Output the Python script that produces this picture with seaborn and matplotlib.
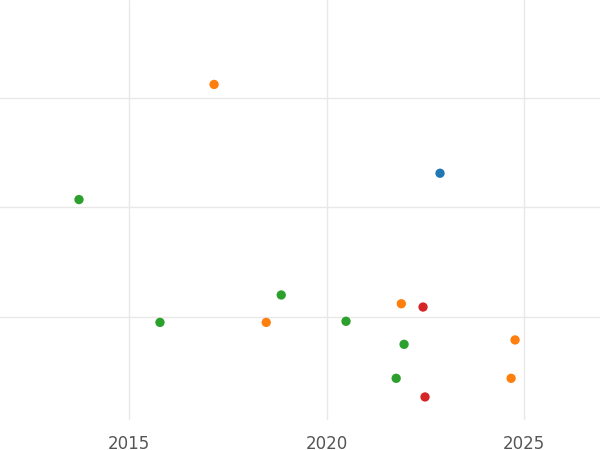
import pandas as pd
import matplotlib.pyplot as plt
import seaborn as sns

years = [2017.15, 2021.89, 2018.47, 2024.77, 2024.67,
         2022.87,
         2013.73, 2018.85, 2015.78, 2020.49, 2021.96, 2021.76,
         2022.44, 2022.49]
values = [3.12, 1.12, 0.95, 0.79, 0.44,
          2.31,
          2.07, 1.20, 0.95, 0.96, 0.75, 0.44,
          1.09, 0.27]
groups = ["B"] * 5 + ["A"] + ["C"] * 6 + ["D"] * 2

data = pd.DataFrame({"year": years, "value": values, "group": groups})

sns.set_style("white")
fig = plt.figure(figsize=(6, 4.5), dpi=100)
ax = fig.add_axes([0, 0.0667, 1, 0.9333])
sns.scatterplot(x="year", y="value", hue="group", data=data,
                hue_order=["A", "B", "C", "D"], palette="tab10",
                s=45, linewidth=0, legend=False, ax=ax)
ax.set_xlim(2011.73, 2026.92)
ax.set_ylim(0.06, 3.89)
ax.set_xticks([2015, 2020, 2025])
ax.set_yticks([1, 2, 3])
ax.set_yticklabels([])
ax.tick_params(axis="x", colors="#555555", labelsize=12, length=0, pad=11)
ax.tick_params(axis="y", length=0)
ax.grid(True, color="#e8e8e8", linewidth=1)
ax.set_axisbelow(True)
ax.set_xlabel("")
ax.set_ylabel("")
for s in ax.spines.values():
    s.set_visible(False)
fig.savefig("out.png")
